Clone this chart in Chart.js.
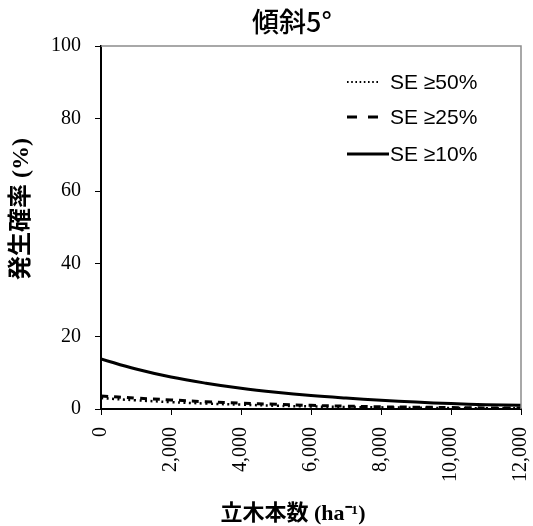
<!DOCTYPE html>
<html>
<head>
<meta charset="utf-8">
<script src="https://cdn.jsdelivr.net/npm/chart.js@4"></script>
<style>
  html, body { margin: 0; padding: 0; background: #fff; }
  #wrap { width: 533px; height: 526px; }
</style>
</head>
<body>
<div id="wrap"><canvas id="slopeChart" width="533" height="526"></canvas></div>
<script>
// 立木本数 (ha-1)
var stems = [0, 1000, 2000, 3000, 4000, 5000, 6000, 7000, 8000, 9000, 10000, 11000, 12000];
// 発生確率 (%)
var se50 = [3.0, 2.4, 1.9, 1.5, 1.2, 0.9, 0.7, 0.55, 0.45, 0.35, 0.28, 0.22, 0.18];
var se25 = [3.6, 3.0, 2.5, 2.0, 1.6, 1.3, 1.0, 0.8, 0.6, 0.5, 0.4, 0.3, 0.25];
var se10 = [13.8, 11.0, 8.8, 7.1, 5.7, 4.6, 3.7, 3.0, 2.4, 1.9, 1.5, 1.2, 1.0];
var seriesNames = ["SE \u226550%", "SE \u226525%", "SE \u226510%"];
var yTicks = [0, 20, 40, 60, 80, 100];
var xTicks = [0, 2000, 4000, 6000, 8000, 10000, 12000];

function pts(vals) {
    return vals.map(function (v, i) { return {x: stems[i], y: v}; });
}

var serif = "'Liberation Serif', 'Times New Roman', serif";
var cjkMix = "'Liberation Serif', 'Noto Sans CJK JP', serif";

// titles, legend and the grey frame are drawn here
var decorations = {
    id: 'decorations',
    afterDraw: function (chart) {
        var ctx = chart.ctx, a = chart.chartArea;
        ctx.save();
        // grey top and right border
        ctx.strokeStyle = '#8c8c8c';
        ctx.lineWidth = 1.5;
        ctx.beginPath();
        ctx.moveTo(a.left, a.top);
        ctx.lineTo(a.right, a.top);
        ctx.lineTo(a.right, a.bottom);
        ctx.stroke();

        ctx.fillStyle = '#000';
        ctx.textBaseline = 'middle';
        ctx.textAlign = 'center';
        ctx.font = "500 27px 'Noto Sans CJK JP', sans-serif";
        ctx.fillText('傾斜5°', 292, 22);

        ctx.font = "bold 22px " + cjkMix;
        ctx.fillText('立木本数 (ha⁻¹)', 293, 514);

        ctx.save();
        ctx.translate(22, 209);
        ctx.rotate(-Math.PI / 2);
        ctx.font = "bold 24px " + cjkMix;
        ctx.fillText('発生確率 (%)', 0, 0);
        ctx.restore();

        // legend
        var rowsY = [82, 117, 154];
        ctx.font = "21px 'Liberation Sans', sans-serif";
        ctx.textAlign = 'left';
        chart.data.datasets.forEach(function (ds, i) {
            var y = rowsY[i];
            ctx.save();
            ctx.strokeStyle = ds.borderColor;
            ctx.lineWidth = i === 0 ? 1.8 : ds.borderWidth;
            ctx.setLineDash(i === 0 ? [1.6, 2.6] : (i === 1 ? [10, 11] : []));
            ctx.beginPath();
            ctx.moveTo(347, y);
            ctx.lineTo(i === 2 ? 389 : 380, y);
            ctx.stroke();
            ctx.restore();
            ctx.fillText(ds.label, 390, y + 1);
        });
        ctx.restore();
    }
};

new Chart(document.getElementById('slopeChart').getContext('2d'), {
    type: 'line',
    data: {
        datasets: [{
            label: seriesNames[0],
            data: pts(se50),
            borderColor: '#000',
            borderWidth: 2.5,
            borderDash: [2, 3.5],
            pointRadius: 0,
            tension: 0.4
        }, {
            label: seriesNames[1],
            data: pts(se25),
            borderColor: '#000',
            borderWidth: 3,
            borderDash: [7, 6],
            pointRadius: 0,
            tension: 0.4
        }, {
            label: seriesNames[2],
            data: pts(se10),
            borderColor: '#000',
            borderWidth: 3,
            pointRadius: 0,
            tension: 0.4
        }]
    },
    options: {
        responsive: false,
        animation: false,
        layout: {padding: {top: 46, right: 12, left: 0, bottom: 0}},
        plugins: {
            legend: {display: false},
            tooltip: {enabled: false}
        },
        scales: {
            x: {
                type: 'linear',
                min: 0,
                max: 12000,
                afterFit: function (s) {
                    s.height = 117;
                    s.paddingLeft = 0;
                    s.paddingRight = 0;
                },
                afterBuildTicks: function (s) {
                    s.ticks = xTicks.map(function (v) { return {value: v}; });
                },
                grid: {drawOnChartArea: false, tickLength: 6, tickColor: '#000', tickWidth: 1},
                border: {color: '#000', width: 2},
                ticks: {
                    color: '#000',
                    font: {family: serif, size: 20},
                    minRotation: 90,
                    maxRotation: 90,
                    padding: 12,
                    callback: function (v) { return v.toLocaleString('en-US'); }
                }
            },
            y: {
                min: 0,
                max: 100,
                afterFit: function (s) { s.width = 101; },
                afterBuildTicks: function (s) {
                    s.ticks = yTicks.map(function (v) { return {value: v}; });
                },
                grid: {drawOnChartArea: false, tickLength: 6, tickColor: '#000', tickWidth: 1},
                border: {color: '#000', width: 2},
                ticks: {
                    color: '#000',
                    font: {family: serif, size: 20},
                    padding: 14
                }
            }
        }
    },
    plugins: [decorations]
});
</script>
</body>
</html>
